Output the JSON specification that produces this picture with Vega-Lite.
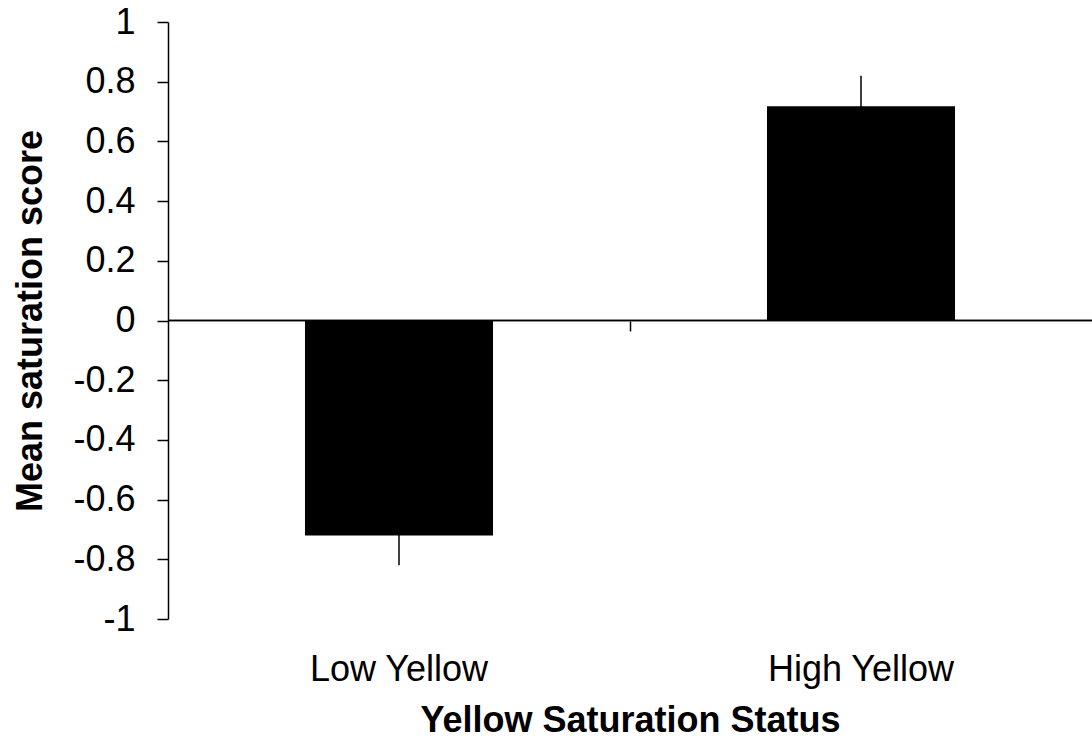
{
  "$schema": "https://vega.github.io/schema/vega-lite/v6.json",
  "width": 924,
  "height": 597,
  "autosize": "none",
  "padding": {"left": 168, "top": 22, "right": 0, "bottom": 123},
  "background": "white",
  "config": {
    "view": {"stroke": null},
    "font": "Liberation Sans",
    "axis": {"labelFont": "Liberation Sans", "titleFont": "Liberation Sans", "labelColor": "black", "titleColor": "black", "domainColor": "black", "tickColor": "black", "grid": false, "labelLimit": 500}
  },
  "data": {
    "values": [
      {"status": "Low Yellow", "mean": -0.72, "lo": -0.82, "hi": -0.62},
      {"status": "High Yellow", "mean": 0.718, "lo": 0.618, "hi": 0.82}
    ]
  },
  "layer": [
    {
      "mark": {"type": "rule", "color": "black", "strokeWidth": 1.5},
      "encoding": {
        "x": {
          "field": "status",
          "type": "nominal",
          "sort": null,
          "scale": {"paddingInner": 0.593, "paddingOuter": 0.2965},
          "axis": null
        },
        "y": {
          "field": "lo",
          "type": "quantitative",
          "scale": {"domain": [-1, 1], "nice": false},
          "axis": {
            "values": [-1, -0.8, -0.6, -0.4, -0.2, 0, 0.2, 0.4, 0.6, 0.8, 1],
            "labelExpr": "toString(round(datum.value*10)/10)",
            "labelFontSize": 36,
            "labelPadding": 22,
            "tickSize": 11,
            "tickWidth": 1.5,
            "domainWidth": 1.5,
            "title": "Mean saturation score",
            "titleFontSize": 36,
            "titleFontWeight": "bold",
            "titlePadding": 23
          }
        },
        "y2": {"field": "hi"}
      }
    },
    {
      "mark": {"type": "bar", "color": "black"},
      "encoding": {
        "x": {
          "field": "status",
          "type": "nominal",
          "sort": null,
          "scale": {"paddingInner": 0.593, "paddingOuter": 0.2965},
          "axis": {
            "orient": "bottom",
            "domain": false,
            "ticks": false,
            "labelAngle": 0,
            "labelFontSize": 36,
            "labelPadding": 33,
            "title": "Yellow Saturation Status",
            "titleFontSize": 36,
            "titleFontWeight": "bold",
            "titlePadding": 16
          }
        },
        "y": {"field": "mean", "type": "quantitative"}
      }
    },
    {
      "mark": {"type": "rule", "color": "black", "strokeWidth": 1.5},
      "encoding": {
        "x": {
          "datum": 0,
          "type": "quantitative",
          "scale": {"domain": [0, 2], "nice": false},
          "axis": {
            "orient": "bottom",
            "offset": -298,
            "values": [1],
            "labels": false,
            "title": null,
            "domain": false,
            "ticks": true,
            "tickSize": 10,
            "tickWidth": 1.5,
            "zindex": 1
          }
        },
        "x2": {"datum": 2},
        "y": {"datum": 0, "type": "quantitative"}
      }
    }
  ],
  "resolve": {"scale": {"x": "independent"}, "axis": {"x": "independent"}}
}
